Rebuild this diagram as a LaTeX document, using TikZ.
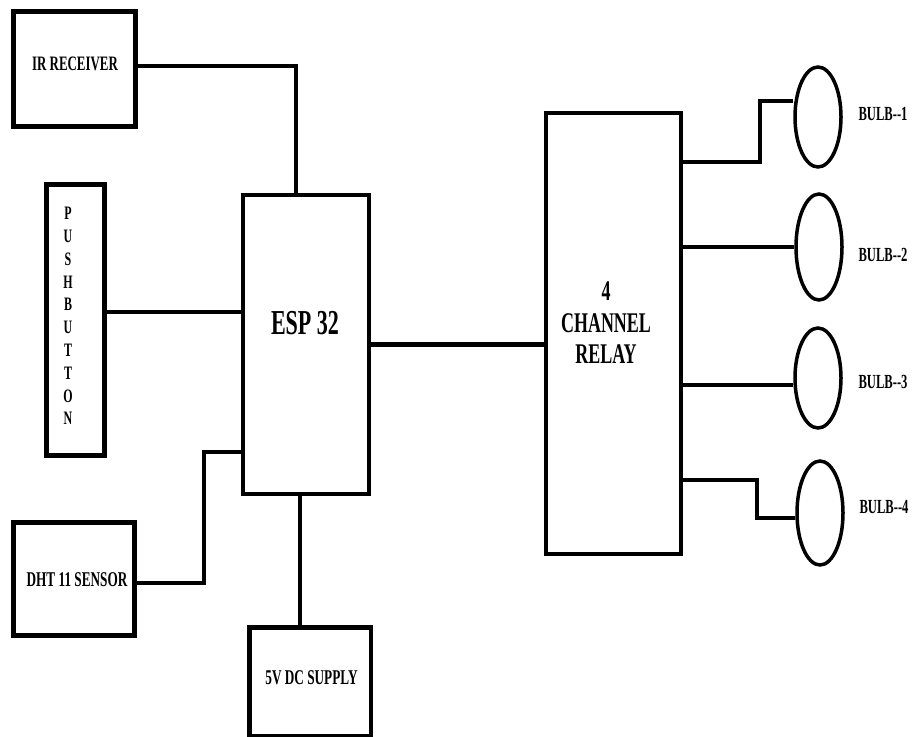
\documentclass[tikz,border=0pt]{standalone}
\usepackage{fontspec}
\setmainfont{Liberation Serif}[FakeStretch=0.63]
\usetikzlibrary{shapes.geometric}

\begin{document}
\begin{tikzpicture}[x=1pt, y=-1pt, every node/.style={font=\bfseries},
    block/.style={draw, line width=4.5pt, inner sep=0pt},
    lamp/.style={draw, ellipse, line width=3.5pt, inner sep=0pt, minimum width=46pt, minimum height=100pt},
    wire/.style={line width=4.5pt},
    tag/.style={font=\bfseries\fontsize{21}{24}\selectfont},
    bulbtag/.style={font=\bfseries\fontsize{20}{22}\selectfont}]
    \clip (0,0) rectangle (915,736);
    \fill[white] (0,0) rectangle (915,736);

    \node[block, minimum width=122pt, minimum height=115pt] (ir) at (74.5,69) {};
    \node[block, minimum width=58pt, minimum height=271pt] (pb) at (75.5,320) {};
    \node[block, line width=4pt, minimum width=126pt, minimum height=299pt] (esp) at (306,344.5) {};
    \node[block, minimum width=121pt, minimum height=113pt] (dht) at (74,579) {};
    \node[block, minimum width=121.5pt, minimum height=108.5pt] (psu) at (310,681.5) {};
    \node[block, minimum width=135pt, minimum height=441pt] (relay) at (613.5,333.5) {};

    \node[lamp] (bulb1) at (818,117) {};
    \node[lamp, minimum height=106pt] (bulb2) at (819,247) {};
    \node[lamp] (bulb3) at (818,378) {};
    \node[lamp, minimum height=104pt] (bulb4) at (820,513) {};

    \node[tag, font=\bfseries\fontsize{20.5}{24}\selectfont] (irtext) at (75,64) {IR RECEIVER};
    \node[tag, font=\bfseries\fontsize{19}{22.8}\selectfont, align=center] (pbtext) at (68,316)
        {P\\U\\S\\H\\B\\U\\T\\T\\O\\N};
    \node[tag, font=\bfseries\fontsize{35}{40}\selectfont] (esptext) at (305,323) {ESP 32};
    \node[tag] (dhttext) at (77,580) {DHT 11 SENSOR};
    \node[tag] (psutext) at (311.5,678) {5V DC SUPPLY};
    \node[tag, font=\bfseries\fontsize{28.5}{31.5}\selectfont, align=center] (relaytext) at (606,323)
        {4\\CHANNEL\\RELAY};
    \node[bulbtag] (l1) at (883,114) {BULB-{}-1};
    \node[bulbtag] (l2) at (883,255) {BULB-{}-2};
    \node[bulbtag] (l3) at (883,382) {BULB-{}-3};
    \node[bulbtag] (l4) at (884,507) {BULB-{}-4};

    \coordinate (dhtbend) at (204,452);
    \coordinate (b1bend) at (760,101);
    \coordinate (b4bend) at (757,518);

    \draw[wire] ([yshift=3pt]ir.east) -| ([xshift=-10pt]esp.north);
    \draw[wire] ([yshift=8pt]pb.east) -- ([yshift=8pt]pb.east -| esp.west);
    \draw[wire] ([yshift=-4pt]dht.east) -| (dhtbend) -- (dhtbend -| esp.west);
    \draw[wire] ([xshift=-6pt]esp.south) -- ([xshift=-6pt]esp.south |- psu.north);
    \draw[wire] (esp.east) -- (esp.east -| relay.west);

    \draw[wire] (relay.east |- 0,162) -| (b1bend) -- (b1bend -| bulb1.west);
    \draw[wire] (relay.east |- bulb2.west) -- (bulb2.west);
    \draw[wire] (relay.east |- 0,385) -- (bulb3.west |- 0,385);
    \draw[wire] (relay.east |- 0,480) -| (b4bend) -- (b4bend -| bulb4.west);
\end{tikzpicture}
\end{document}
